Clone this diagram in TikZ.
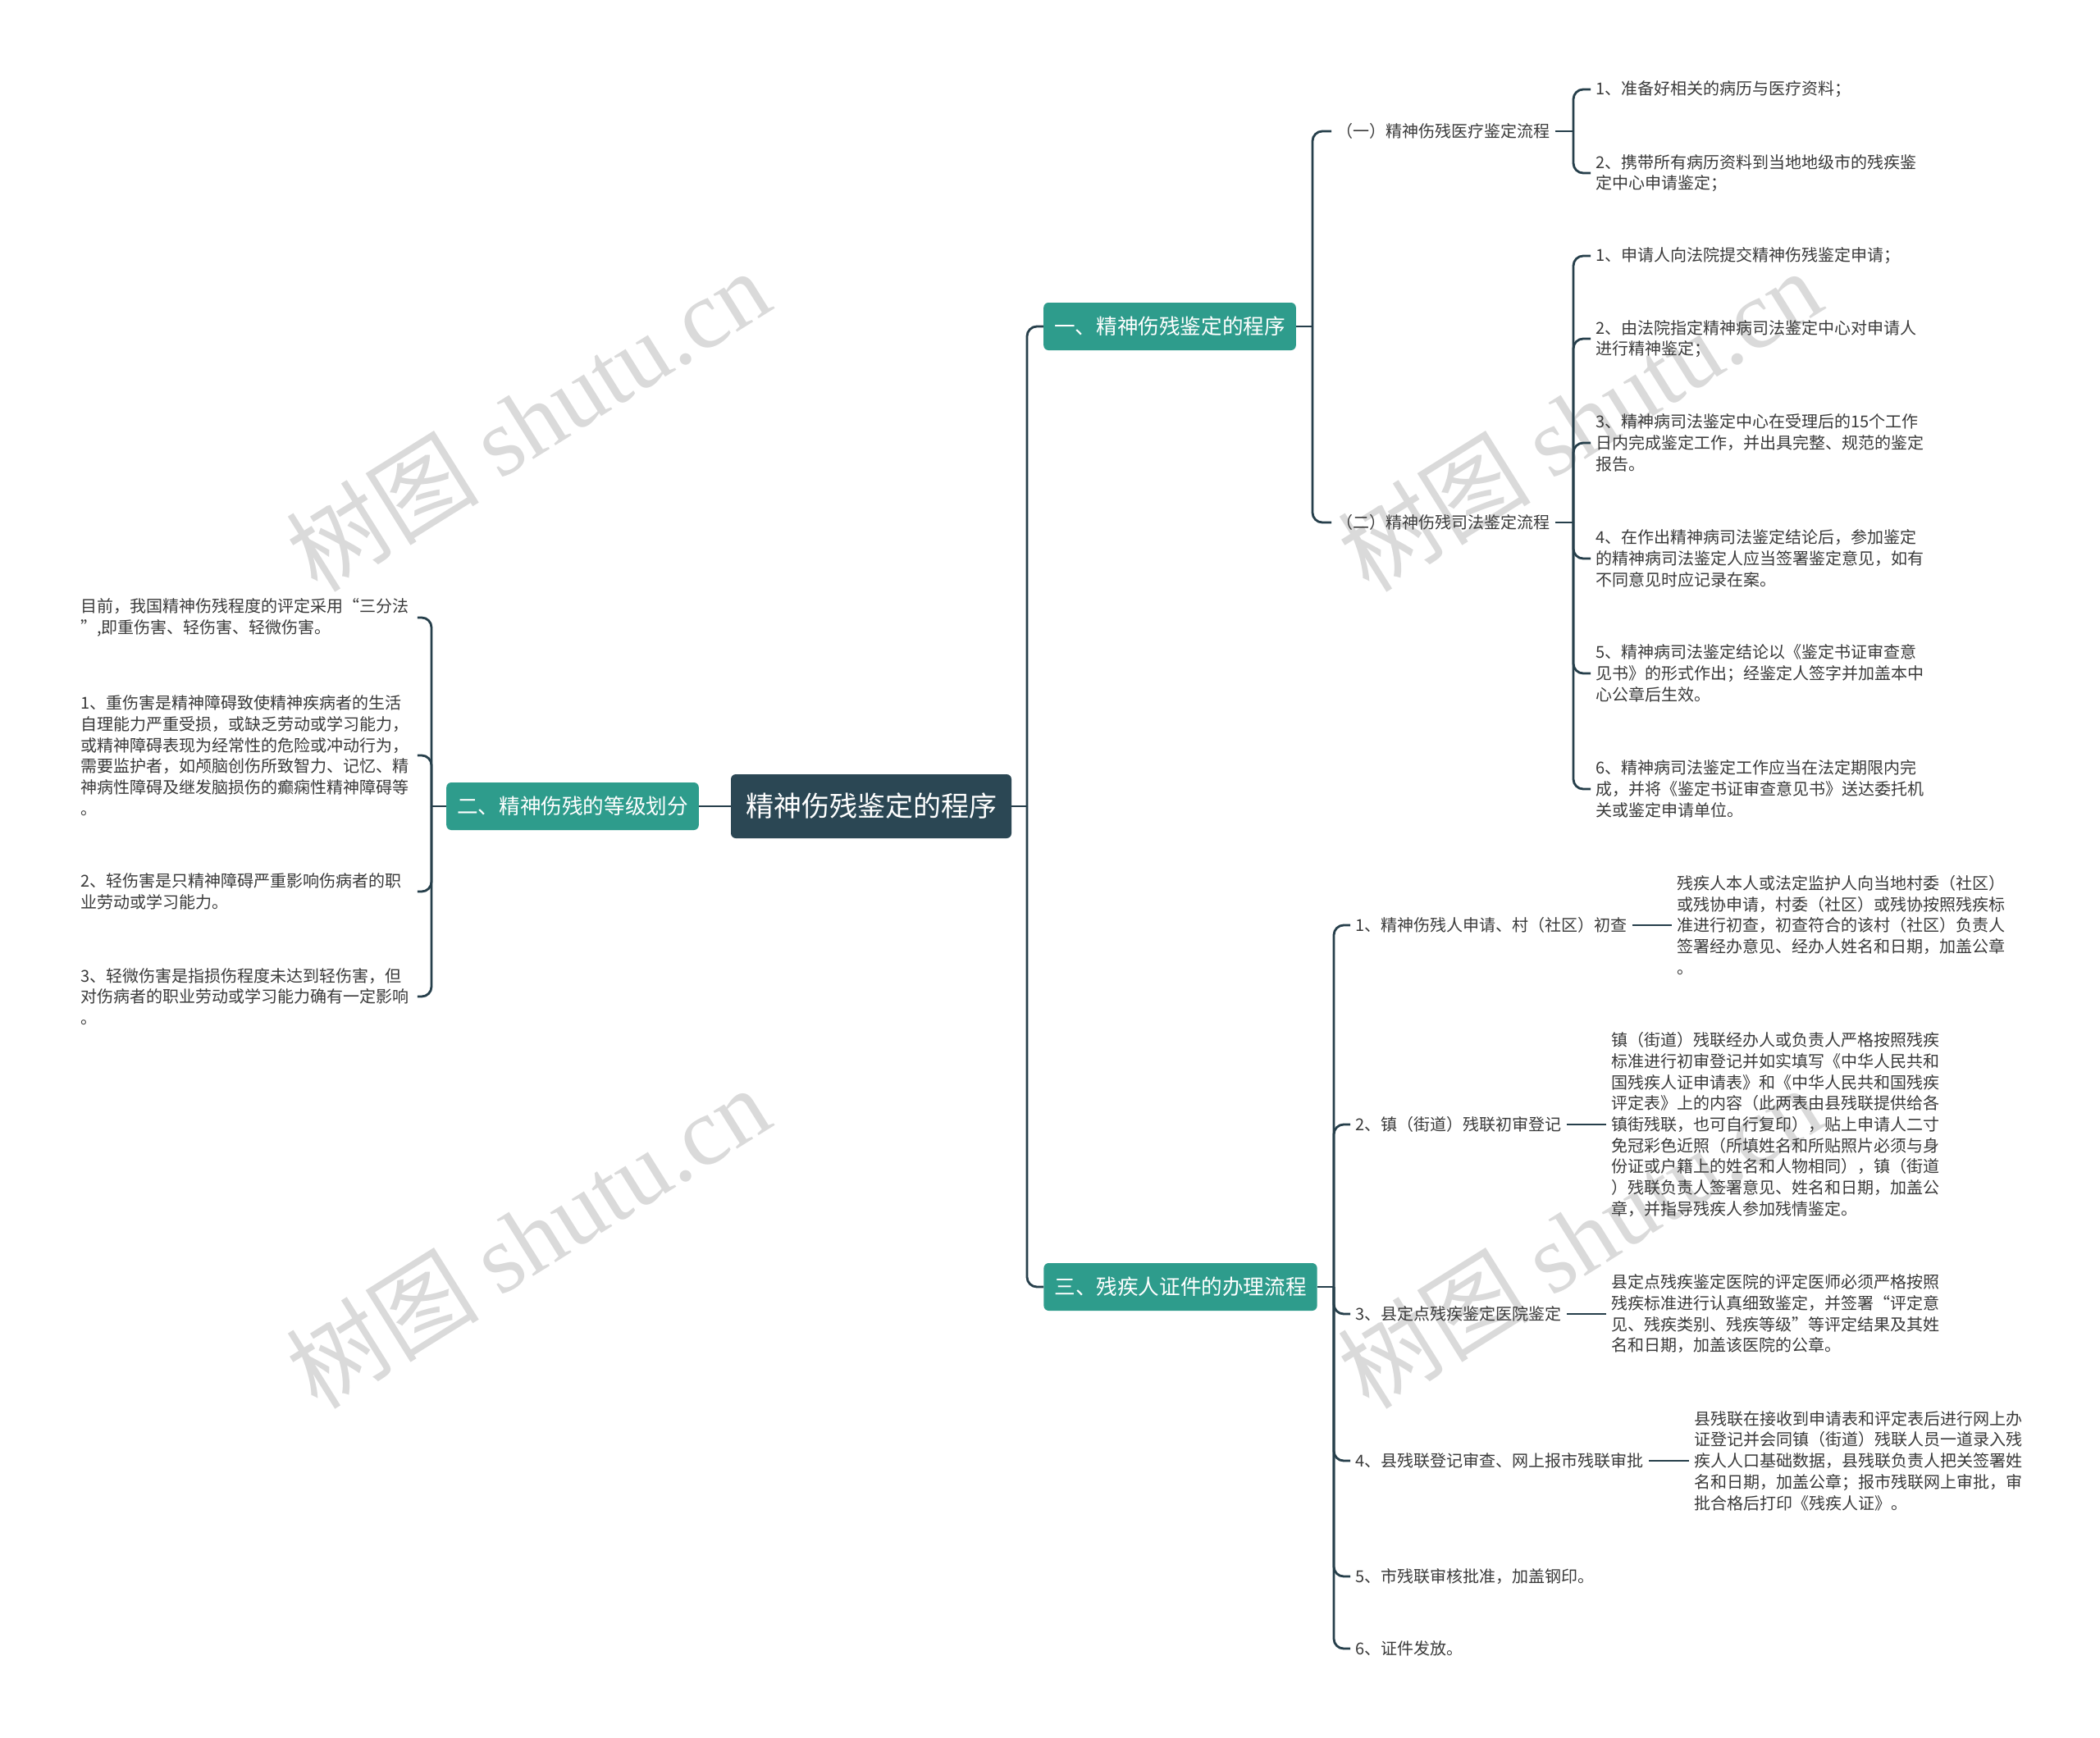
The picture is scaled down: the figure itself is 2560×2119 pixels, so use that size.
\documentclass[tikz,border=0pt]{standalone}
\usepackage{fontspec}
\setmainfont{Noto Sans CJK SC}
\newfontfamily\wmlatin{Liberation Serif}
\usetikzlibrary{calc}
\definecolor{tealbox}{HTML}{2E9C8C}
\definecolor{rootfill}{HTML}{2B4754}
\definecolor{linec}{HTML}{263F4B}
\definecolor{txtc}{HTML}{3A3A3A}
\definecolor{wmc}{HTML}{DADADA}
\begin{document}
\begin{tikzpicture}[x=0.5pt,y=-0.5pt,
  conn/.style={draw=linec,line width=1.4pt,rounded corners=6pt},
  straightconn/.style={draw=linec,line width=1.4pt},
  rootbox/.style={fill=rootfill,rounded corners=3pt,text=white,font=\fontsize{17pt}{20pt}\selectfont,minimum height=39pt,inner xsep=9pt},
  lvlbox/.style={fill=tealbox,rounded corners=3pt,text=white,font=\fontsize{12.8pt}{15pt}\selectfont,minimum height=29pt,inner xsep=6.5pt},
  lbl/.style={anchor=west,align=left,text=txtc,font=\fontsize{10pt}{12.85pt}\selectfont,inner xsep=3pt,inner ysep=1pt},
  wmark/.style={text=wmc,rotate=32,font=\fontsize{59pt}{66pt}\selectfont}
]
\fill[white] (0,0) rectangle (2560,2119);
\useasboundingbox (0,0) rectangle (2560,2119);

% watermarks
\node[wmark] (wm1) at (643,512) {树图 {\wmlatin shutu.cn}};
\node[wmark] (wm2) at (1925,512) {树图 {\wmlatin shutu.cn}};
\node[wmark] (wm3) at (643,1508) {树图 {\wmlatin shutu.cn}};
\node[wmark] (wm4) at (1925,1508) {树图 {\wmlatin shutu.cn}};

% main nodes
\node[rootbox] (root) at (1062,983) {精神伤残鉴定的程序};
\node[lvlbox] (b1) at (1426,398) {一、精神伤残鉴定的程序};
\node[lvlbox] (b2) at (698,983) {二、精神伤残的等级划分};
\node[lvlbox] (b3) at (1439,1569) {三、残疾人证件的办理流程};

% left children
\node[lbl,text width=202pt] (l1) at (92,753) {目前，我国精神伤残程度的评定采用“三分法\\”,即重伤害、轻伤害、轻微伤害。};
\node[lbl,text width=202pt] (l2) at (92,921) {1、重伤害是精神障碍致使精神疾病者的生活\\自理能力严重受损，或缺乏劳动或学习能力，\\或精神障碍表现为经常性的危险或冲动行为，\\需要监护者，如颅脑创伤所致智力、记忆、精\\神病性障碍及继发脑损伤的癫痫性精神障碍等\\。};
\node[lbl,text width=202pt] (l3) at (92,1087) {2、轻伤害是只精神障碍严重影响伤病者的职\\业劳动或学习能力。};
\node[lbl,text width=202pt] (l4) at (92,1215) {3、轻微伤害是指损伤程度未达到轻伤害，但\\对伤病者的职业劳动或学习能力确有一定影响\\。};

% branch one
\node[lbl] (c1) at (1623,160) {（一）精神伤残医疗鉴定流程};
\node[lbl] (c2) at (1623,637) {（二）精神伤残司法鉴定流程};
\node[lbl] (d1) at (1939,109) {1、准备好相关的病历与医疗资料；};
\node[lbl] (d2) at (1939,211) {2、携带所有病历资料到当地地级市的残疾鉴\\定中心申请鉴定；};
\node[lbl] (e1) at (1939,312) {1、申请人向法院提交精神伤残鉴定申请；};
\node[lbl] (e2) at (1939,413) {2、由法院指定精神病司法鉴定中心对申请人\\进行精神鉴定；};
\node[lbl] (e3) at (1939,540) {3、精神病司法鉴定中心在受理后的15个工作\\日内完成鉴定工作，并出具完整、规范的鉴定\\报告。};
\node[lbl] (e4) at (1939,681) {4、在作出精神病司法鉴定结论后，参加鉴定\\的精神病司法鉴定人应当签署鉴定意见，如有\\不同意见时应记录在案。};
\node[lbl] (e5) at (1939,821) {5、精神病司法鉴定结论以《鉴定书证审查意\\见书》的形式作出；经鉴定人签字并加盖本中\\心公章后生效。};
\node[lbl] (e6) at (1939,962) {6、精神病司法鉴定工作应当在法定期限内完\\成，并将《鉴定书证审查意见书》送达委托机\\关或鉴定申请单位。};

% branch three
\node[lbl] (f1) at (1646,1128) {1、精神伤残人申请、村（社区）初查};
\node[lbl] (f2) at (1646,1371) {2、镇（街道）残联初审登记};
\node[lbl] (f3) at (1646,1602) {3、县定点残疾鉴定医院鉴定};
\node[lbl] (f4) at (1646,1781) {4、县残联登记审查、网上报市残联审批};
\node[lbl] (f5) at (1646,1922) {5、市残联审核批准，加盖钢印。};
\node[lbl] (f6) at (1646,2010) {6、证件发放。};
\node[lbl] (g1) at (2038,1128) {残疾人本人或法定监护人向当地村委（社区）\\或残协申请，村委（社区）或残协按照残疾标\\准进行初查，初查符合的该村（社区）负责人\\签署经办意见、经办人姓名和日期，加盖公章\\。};
\node[lbl] (g2) at (1958,1371) {镇（街道）残联经办人或负责人严格按照残疾\\标准进行初审登记并如实填写《中华人民共和\\国残疾人证申请表》和《中华人民共和国残疾\\评定表》上的内容（此两表由县残联提供给各\\镇街残联，也可自行复印），贴上申请人二寸\\免冠彩色近照（所填姓名和所贴照片必须与身\\份证或户籍上的姓名和人物相同），镇（街道\\）残联负责人签署意见、姓名和日期，加盖公\\章，并指导残疾人参加残情鉴定。};
\node[lbl] (g3) at (1958,1602) {县定点残疾鉴定医院的评定医师必须严格按照\\残疾标准进行认真细致鉴定，并签署“评定意\\见、残疾类别、残疾等级”等评定结果及其姓\\名和日期，加盖该医院的公章。};
\node[lbl] (g4) at (2059,1781) {县残联在接收到申请表和评定表后进行网上办\\证登记并会同镇（街道）残联人员一道录入残\\疾人人口基础数据，县残联负责人把关签署姓\\名和日期，加盖公章；报市残联网上审批，审\\批合格后打印《残疾人证》。};

% junctions
\coordinate (jr) at (1252,983);
\coordinate (jl) at (526,983);
\coordinate (j1) at (1600,398);
\coordinate (jc1) at (1918,160);
\coordinate (jc2) at (1918,637);
\coordinate (j3) at (1626,1569);

% connectors
\draw[straightconn] (root.east) -- (jr);
\draw[conn] (jr) |- (b1.west);
\draw[conn] (jr) |- (b3.west);
\draw[straightconn] (root.west) -- (b2.east);

\draw[straightconn] (b2.west) -- (jl);
\foreach \n in {l1,l2,l3,l4} \draw[conn] (jl) |- (\n.east);

\draw[straightconn] (b1.east) -- (j1);
\foreach \n in {c1,c2} \draw[conn] (j1) |- (\n.west);

\draw[straightconn] (c1.east) -- (jc1);
\foreach \n in {d1,d2} \draw[conn] (jc1) |- (\n.west);

\draw[straightconn] (c2.east) -- (jc2);
\foreach \n in {e1,e2,e3,e4,e5,e6} \draw[conn] (jc2) |- (\n.west);

\draw[straightconn] (b3.east) -- (j3);
\foreach \n in {f1,f2,f3,f4,f5,f6} \draw[conn] (j3) |- (\n.west);

\draw[straightconn] (f1.east) -- (g1.west);
\draw[straightconn] (f2.east) -- (g2.west);
\draw[straightconn] (f3.east) -- (g3.west);
\draw[straightconn] (f4.east) -- (g4.west);
\end{tikzpicture}
\end{document}
